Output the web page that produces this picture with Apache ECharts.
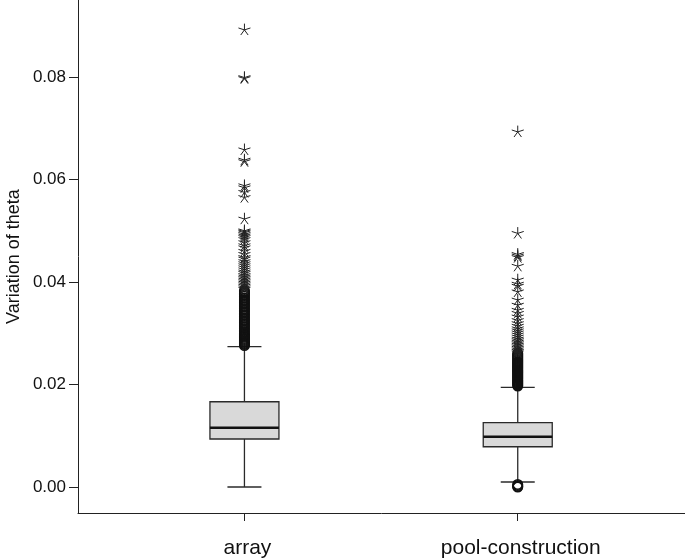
<!DOCTYPE html>
<html>
<head>
<meta charset="utf-8">
<script src="https://cdn.jsdelivr.net/npm/echarts@6/dist/echarts.min.js"></script>
<style>
html,body{margin:0;padding:0;background:#fff;}
#chart{width:685px;height:559px;}
</style>
</head>
<body>
<div id="chart"></div>
<script>
// ---- data ----
const categories = ['array', 'pool-construction'];
const yTickValues = [0, 0.02, 0.04, 0.06, 0.08];

const lowerWhisker = [0.0000, 0.00098];
const q1 = [0.00937, 0.00786];
const median = [0.01157, 0.00981];
const q3 = [0.01664, 0.01255];
const upperWhisker = [0.02738, 0.01945];

// outliers (open circles) and extreme values (stars)
const arrayOutliers = [0.0276, 0.0278, 0.0280, 0.0282, 0.0284, 0.0286, 0.0288, 0.0290, 0.0292, 0.0294,
  0.0296, 0.0298, 0.0300, 0.0303, 0.0306, 0.0309, 0.0312, 0.0315, 0.0318, 0.0321, 0.0324, 0.0327,
  0.0330, 0.0333, 0.0336, 0.0339, 0.0342, 0.0345, 0.0348, 0.0351, 0.0354, 0.0357, 0.0360, 0.0363,
  0.0366, 0.0369, 0.0372, 0.0375, 0.0378, 0.0381, 0.0383];
const arrayExtremes = [0.0893, 0.0800, 0.0798, 0.0659, 0.0639, 0.0636, 0.0589, 0.0585, 0.0576, 0.0566,
  0.0524, 0.0501, 0.0499, 0.0497, 0.0494, 0.0491, 0.0488, 0.0484, 0.0478, 0.0472, 0.0468, 0.0461,
  0.0455, 0.0449, 0.0446, 0.0441, 0.0437, 0.0433, 0.0429, 0.0425, 0.0421, 0.0418, 0.0414, 0.0411,
  0.0408, 0.0405, 0.0402, 0.0399, 0.0396, 0.0393, 0.0390, 0.0387];
const poolOutliers = [0.0197, 0.0199, 0.0201, 0.0203, 0.0205, 0.0207, 0.0209, 0.0211, 0.0213, 0.0215,
  0.0217, 0.0219, 0.0221, 0.0223, 0.0225, 0.0227, 0.0229, 0.0231, 0.0233, 0.0235, 0.0237, 0.0239,
  0.0241, 0.0243, 0.0245, 0.0247, 0.0249, 0.0251, 0.0253, 0.0255, 0.0257, 0.0259, 0.0261,
  0.0000, 0.0001, 0.0003, 0.0005];
const poolExtremes = [0.0694, 0.0496, 0.0455, 0.0452, 0.0449, 0.0432, 0.0405, 0.0397, 0.0393, 0.0382,
  0.0366, 0.0356, 0.0346, 0.0340, 0.0333, 0.0326, 0.0320, 0.0315, 0.0310, 0.0306, 0.0302, 0.0298,
  0.0294, 0.0290, 0.0287, 0.0284, 0.0281, 0.0278, 0.0275, 0.0272, 0.0269, 0.0266, 0.0263];

// ---- build options ----
const boxData = categories.map((c, i) => [i + 1, lowerWhisker[i], q1[i], median[i], q3[i], upperWhisker[i]]);
const outlierData = arrayOutliers.map(v => [1, v]).concat(poolOutliers.map(v => [2, v]));
const extremeData = arrayExtremes.map(v => [1, v]).concat(poolExtremes.map(v => [2, v]));

const FONT = '"Liberation Sans", Arial, Helvetica, sans-serif';
const STAR = 'path://M0,-10L0,0M9.51,-3.09L0,0M5.88,8.09L0,0M-5.88,8.09L0,0M-9.51,-3.09L0,0';

const chart = echarts.init(document.getElementById('chart'), null, {renderer: 'canvas'});
chart.setOption({
  animation: false,
  backgroundColor: '#ffffff',
  grid: {left: 78, right: 0, top: 0, bottom: 46, containLabel: false, outerBoundsMode: 'none'},
  xAxis: {
    type: 'value', min: 0.391, max: 2.612,
    axisLine: {show: true, onZero: false, lineStyle: {color: '#222', width: 1}},
    axisTick: {show: true, length: 8, customValues: [1, 2], lineStyle: {color: '#222', width: 1}},
    axisLabel: {
      customValues: [1, 2], margin: 25, fontSize: 21, color: '#111', fontFamily: FONT,
      padding: [0, 0, 0, 6],
      formatter: v => categories[Math.round(v) - 1] || ''
    },
    splitLine: {show: false}
  },
  yAxis: {
    type: 'value', min: -0.00507, max: 0.09502,
    name: 'Variation of theta', nameLocation: 'middle', nameGap: 55, nameRotate: 90,
    nameMoveOverlap: false,
    nameTextStyle: {fontSize: 18, color: '#111', fontFamily: FONT},
    axisLine: {show: true, onZero: false, lineStyle: {color: '#222', width: 1}},
    axisTick: {show: true, length: 9, customValues: yTickValues, lineStyle: {color: '#222', width: 1}},
    axisLabel: {
      customValues: yTickValues, margin: 12, fontSize: 17, color: '#111', fontFamily: FONT,
      formatter: v => v.toFixed(2)
    },
    splitLine: {show: false}
  },
  series: [
    {
      type: 'custom',
      silent: true,
      data: boxData,
      renderItem: function (params, api) {
        const x = api.value(0);
        const pLow = api.coord([x, api.value(1)]);
        const pQ1 = api.coord([x, api.value(2)]);
        const pMed = api.coord([x, api.value(3)]);
        const pQ3 = api.coord([x, api.value(4)]);
        const pHigh = api.coord([x, api.value(5)]);
        const cx = pLow[0];
        const halfBox = 34.5, halfCap = 17;
        const lineStyle = {stroke: '#2a2a2a', lineWidth: 1.3};
        return {
          type: 'group',
          children: [
            {type: 'line', shape: {x1: cx, y1: pLow[1], x2: cx, y2: pQ1[1]}, style: lineStyle},
            {type: 'line', shape: {x1: cx, y1: pQ3[1], x2: cx, y2: pHigh[1]}, style: lineStyle},
            {type: 'line', shape: {x1: cx - halfCap, y1: pLow[1], x2: cx + halfCap, y2: pLow[1]}, style: lineStyle},
            {type: 'line', shape: {x1: cx - halfCap, y1: pHigh[1], x2: cx + halfCap, y2: pHigh[1]}, style: lineStyle},
            {type: 'rect', shape: {x: cx - halfBox, y: pQ3[1], width: 2 * halfBox, height: pQ1[1] - pQ3[1]},
              style: {fill: '#d9d9d9', stroke: '#2a2a2a', lineWidth: 1.3}},
            {type: 'line', shape: {x1: cx - halfBox, y1: pMed[1], x2: cx + halfBox, y2: pMed[1]},
              style: {stroke: '#111', lineWidth: 2.6}}
          ]
        };
      }
    },
    {
      type: 'scatter',
      silent: true,
      data: outlierData,
      symbol: 'circle',
      symbolSize: 9.5,
      itemStyle: {color: 'transparent', borderColor: '#111', borderWidth: 1.5, opacity: 1},
      emphasis: {disabled: true}
    },
    {
      type: 'scatter',
      silent: true,
      data: extremeData,
      symbol: STAR,
      symbolKeepAspect: true,
      symbolSize: 12,
      itemStyle: {color: 'transparent', borderColor: '#222', borderWidth: 1, opacity: 1},
      emphasis: {disabled: true}
    }
  ]
});
</script>
</body>
</html>
